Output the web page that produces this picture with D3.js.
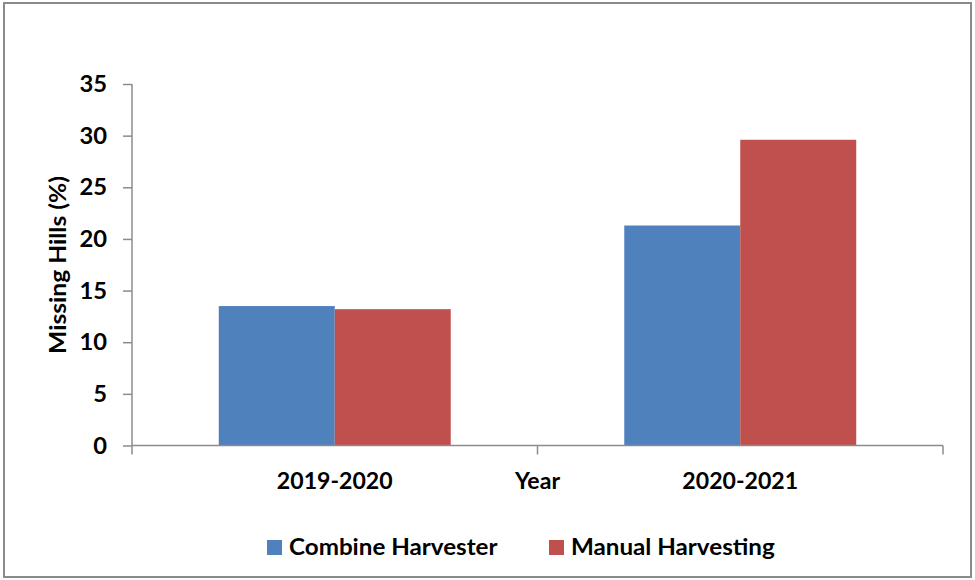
<!DOCTYPE html>
<html>
<head>
<meta charset="utf-8">
<script src="https://cdn.jsdelivr.net/npm/d3@7/dist/d3.min.js"></script>
<style>
  html, body { margin: 0; padding: 0; background: #fff; }
  svg text { font-family: Lato, "Open Sans", sans-serif; font-weight: bold; fill: #000; }
</style>
</head>
<body>
<svg id="chart" width="975" height="580"></svg>
<script>
// Missing hills by harvesting method and season
const years = ["2019-2020", "2020-2021"];
const series = ["Combine Harvester", "Manual Harvesting"];
const combineValues = [13.5, 21.3];
const manualValues = [13.2, 29.6];
const yTicks = [0, 5, 10, 15, 20, 25, 30, 35];
const colors = ["#4F81BD", "#C0504D"];

const rows = years.map((y, i) => ({ year: y, values: [combineValues[i], manualValues[i]] }));

const svg = d3.select("#chart");
const plot = { left: 132, right: 943, top: 84, bottom: 445.5 };
const FS = "22px";

// place a text at (x, y) with a slight horizontal widening of the glyphs
function wide(sel, x, y, sx) {
  sel.attr("x", 0).attr("y", 0)
    .attr("transform", `translate(${x},${y}) scale(${sx},1)`);
  return sel;
}

// outer frame
svg.append("rect")
  .attr("x", 4).attr("y", 3).attr("width", 967).attr("height", 574)
  .attr("fill", "#fff").attr("stroke", "#8a8a8a").attr("stroke-width", 2);

const y = d3.scaleLinear().domain([0, 35]).range([plot.bottom, plot.top]);
const x0 = d3.scaleBand().domain(years).range([plot.left, plot.right]).paddingInner(0).paddingOuter(0);
const x1 = d3.scaleBand().domain(series).range([0, x0.bandwidth()]).paddingInner(0).paddingOuter(0.748);

// bars
const groups = svg.append("g").selectAll("g").data(rows).join("g")
  .attr("transform", d => `translate(${x0(d.year)},0)`);
groups.selectAll("rect")
  .data(d => d.values.map((v, i) => ({ key: series[i], value: v, i })))
  .join("rect")
  .attr("x", d => x1(d.key))
  .attr("width", x1.bandwidth())
  .attr("y", d => y(d.value))
  .attr("height", d => y(0) - y(d.value))
  .attr("fill", d => colors[d.i]);

// y axis
const yAxis = svg.append("g")
  .attr("transform", `translate(${plot.left},0)`)
  .call(d3.axisLeft(y).tickValues(yTicks).tickSize(9).tickPadding(16));
yAxis.selectAll("path, line").attr("stroke", "#8c8c8c").attr("stroke-width", 1.5);
yAxis.select(".domain").attr("d", `M0,${plot.top}V${plot.bottom}`);
yAxis.selectAll("text").style("font-size", FS).attr("dy", "0.35em")
  .each(function () {
    const t = d3.select(this);
    const tx = +t.attr("x");
    wide(t, tx, 0, 1.08);
  });

// x axis line with ticks at category boundaries
const xAxis = svg.append("g").attr("transform", `translate(0,${plot.bottom})`);
xAxis.append("line")
  .attr("x1", plot.left).attr("x2", plot.right)
  .attr("stroke", "#8c8c8c").attr("stroke-width", 1.5);
const bounds = years.map(d => x0(d)).concat([x0(years[years.length - 1]) + x0.bandwidth()]);
xAxis.selectAll("line.tick").data(bounds).join("line").attr("class", "tick")
  .attr("x1", d => d).attr("x2", d => d).attr("y1", 0).attr("y2", 9)
  .attr("stroke", "#8c8c8c").attr("stroke-width", 1.5);
xAxis.selectAll("text.cat").data(years).join("text").attr("class", "cat")
  .attr("text-anchor", "middle")
  .style("font-size", FS)
  .text(d => d)
  .each(function (d) { wide(d3.select(this), x0(d) + x0.bandwidth() / 2, 43, 1.05); });

// axis titles
wide(svg.append("text")
  .attr("text-anchor", "middle").style("font-size", FS)
  .text("Year"), x0(years[1]), plot.bottom + 43, 1.05);
svg.append("text")
  .attr("transform", `translate(66,265) rotate(-90) scale(1.12,1)`)
  .attr("text-anchor", "middle").style("font-size", FS)
  .text("Missing Hills (%)");

// legend
const legend = svg.append("g").attr("transform", "translate(267,540)");
const itemX = [0, 282];
const li = legend.selectAll("g").data(series).join("g")
  .attr("transform", (d, i) => `translate(${itemX[i]},0)`);
li.append("rect").attr("width", 15).attr("height", 15).attr("fill", (d, i) => colors[i]);
li.append("text").attr("dy", "0.36em")
  .style("font-size", FS).text(d => d)
  .each(function () { wide(d3.select(this), 22, 7.5, 1.1); });
</script>
</body>
</html>
